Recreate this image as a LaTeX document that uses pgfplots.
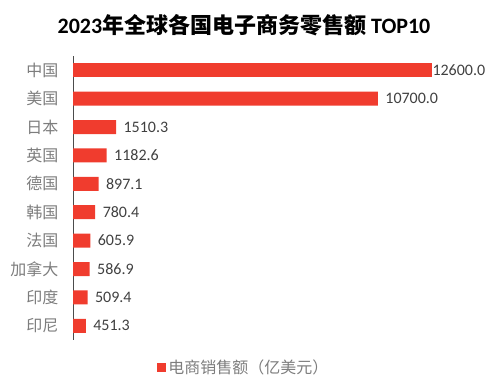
\documentclass[border=0pt]{standalone}
\usepackage{pgfplots}
\pgfplotsset{compat=1.18}
\usepackage{fontspec}
\setmainfont{Carlito}
\newfontfamily\cjk{Noto Sans CJK SC}
\definecolor{barred}{RGB}{240,60,46}
\definecolor{labgray}{RGB}{125,125,125}
\definecolor{valgray}{RGB}{64,64,64}
\begin{document}
\begin{tikzpicture}
\path[use as bounding box] (0,0) rectangle (489bp,392bp);
\node[font=\bfseries\fontsize{22bp}{26bp}\selectfont, anchor=center] at (244bp,367bp) {2023{\cjk 年全球各国电子商务零售额} TOP10};
\begin{axis}[
  at={(73bp,52bp)}, anchor=south west,
  scale only axis, width=359bp, height=284bp,
  xmin=0, xmax=12600,
  ymin=-0.5, ymax=9.5, y dir=reverse,
  axis x line=none,
  axis y line*=left,
  y axis line style={draw=black!70, line width=0.8pt, -},
  ytick={0,...,9},
  yticklabels={中国,美国,日本,英国,德国,韩国,法国,加拿大,印度,印尼},
  yticklabel style={font=\cjk\fontsize{16bp}{18bp}\selectfont, text=labgray, xshift=-11bp},
  major tick length=0pt,
  xbar, bar width=14bp, bar shift=0pt,
  clip=false,
  nodes near coords,
  nodes near coords style={font=\fontsize{16bp}{18bp}\selectfont, text=valgray, anchor=west, xshift=4bp},
  point meta=explicit symbolic,
  legend style={at={(0.476,-0.098)}, anchor=center, draw=none, fill=none,
    font=\cjk\fontsize{16bp}{18bp}\selectfont, text=labgray},
  legend image code/.code={\fill[barred] (0bp,-4.5bp) rectangle (9bp,4.5bp);},
]
\addplot[fill=barred, draw=none] coordinates {
(10700,1) [10700.0]
(1510.3,2) [1510.3]
(1182.6,3) [1182.6]
(897.1,4) [897.1]
(780.4,5) [780.4]
(605.9,6) [605.9]
(586.9,7) [586.9]
(509.4,8) [509.4]
(451.3,9) [451.3]
};
\addlegendentry{电商销售额（亿美元）}
\addplot[fill=barred, draw=none, forget plot,
  nodes near coords style={xshift=-7bp}] coordinates {
(12600,0) [12600.0]
};
\end{axis}
\end{tikzpicture}
\end{document}
